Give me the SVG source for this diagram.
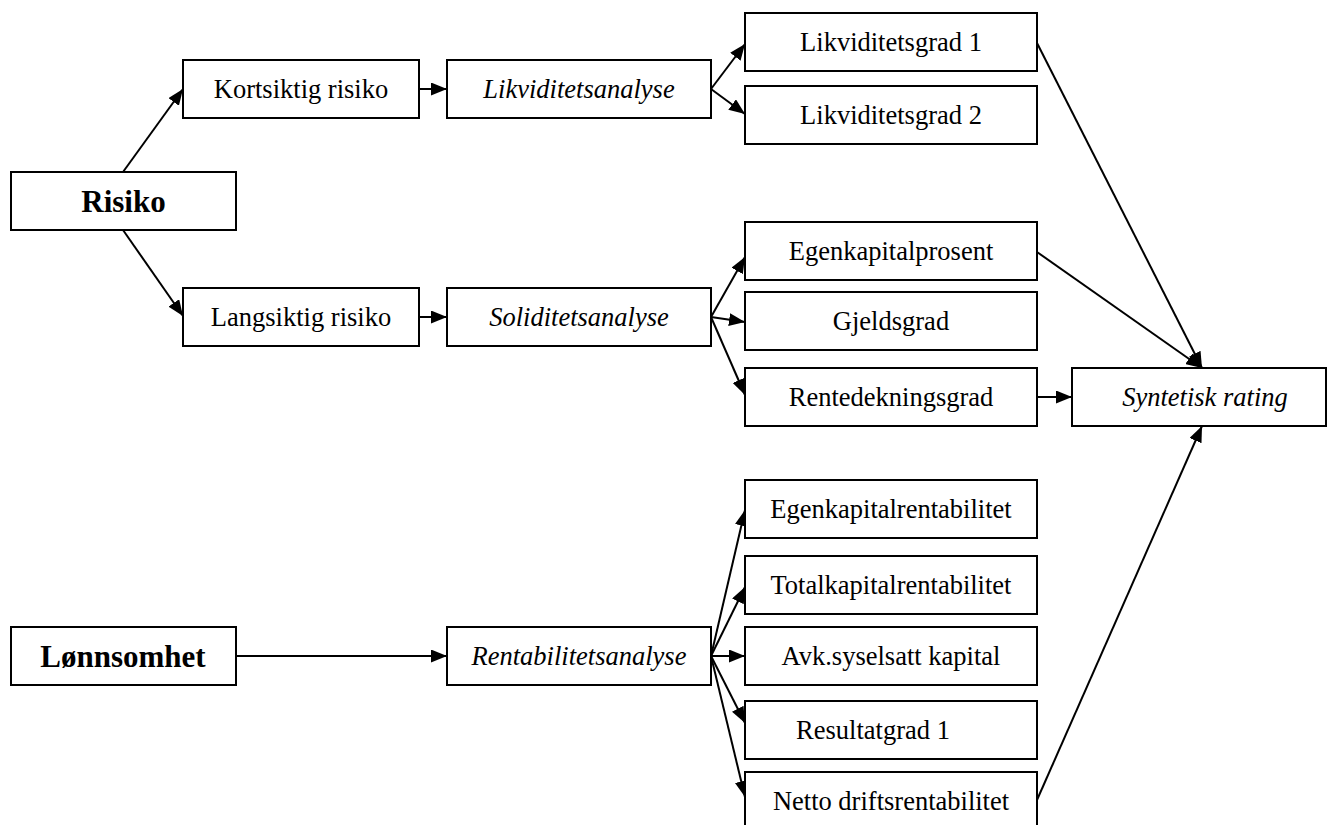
<svg xmlns="http://www.w3.org/2000/svg" width="1328" height="825" viewBox="0 0 1328 825">
  <style>
    .box { fill: #ffffff; stroke: #000000; stroke-width: 2; }
    .lbl { font-family: "Liberation Serif", "Times New Roman", serif; font-size: 26.5px; fill: #000000; text-anchor: middle; }
    .it { font-style: italic; }
    .big { font-size: 31px; font-weight: bold; }
    .edge { stroke: #000000; stroke-width: 2; fill: none; }
  </style>
  <defs>
    <marker id="arrow" markerUnits="userSpaceOnUse" markerWidth="16" markerHeight="13" refX="16" refY="6.5" orient="auto">
      <path d="M0,0 L16,6.5 L0,13 z" fill="#000000"/>
    </marker>
  </defs>
  <rect width="1328" height="825" fill="#ffffff"/>

  <!-- connectors -->
  <g id="connectors">
    <line class="edge" x1="123" y1="172" x2="183" y2="89" marker-end="url(#arrow)"/>
    <line class="edge" x1="123" y1="230" x2="183" y2="316" marker-end="url(#arrow)"/>
    <line class="edge" x1="419" y1="89" x2="447" y2="89" marker-end="url(#arrow)"/>
    <line class="edge" x1="419" y1="317" x2="447" y2="317" marker-end="url(#arrow)"/>
    <line class="edge" x1="711" y1="89" x2="745" y2="44" marker-end="url(#arrow)"/>
    <line class="edge" x1="711" y1="89" x2="745" y2="114" marker-end="url(#arrow)"/>
    <line class="edge" x1="711" y1="317" x2="745" y2="257" marker-end="url(#arrow)"/>
    <line class="edge" x1="711" y1="317" x2="745" y2="322" marker-end="url(#arrow)"/>
    <line class="edge" x1="711" y1="317" x2="745" y2="395" marker-end="url(#arrow)"/>
    <line class="edge" x1="1037" y1="43" x2="1202" y2="368" marker-end="url(#arrow)"/>
    <line class="edge" x1="1037" y1="252" x2="1202" y2="368" marker-end="url(#arrow)"/>
    <line class="edge" x1="1037" y1="397" x2="1072" y2="397" marker-end="url(#arrow)"/>
    <line class="edge" x1="236" y1="656" x2="447" y2="656" marker-end="url(#arrow)"/>
    <line class="edge" x1="711" y1="656" x2="745" y2="510" marker-end="url(#arrow)"/>
    <line class="edge" x1="711" y1="656" x2="745" y2="587" marker-end="url(#arrow)"/>
    <line class="edge" x1="711" y1="656" x2="745" y2="656" marker-end="url(#arrow)"/>
    <line class="edge" x1="711" y1="656" x2="745" y2="723" marker-end="url(#arrow)"/>
    <line class="edge" x1="711" y1="656" x2="745" y2="797" marker-end="url(#arrow)"/>
    <line class="edge" x1="1037" y1="800" x2="1202" y2="426" marker-end="url(#arrow)"/>
  </g>

  <!-- risk branch -->
  <g id="risiko">
    <rect class="box" x="11" y="172" width="225" height="58"/>
    <text class="lbl big" x="123.5" y="212">Risiko</text>
  </g>
  <g id="kortsiktig">
    <rect class="box" x="183" y="60" width="236" height="58"/>
    <text class="lbl" x="301" y="98">Kortsiktig risiko</text>
  </g>
  <g id="langsiktig">
    <rect class="box" x="183" y="288" width="236" height="58"/>
    <text class="lbl" x="301" y="326">Langsiktig risiko</text>
  </g>
  <g id="likviditetsanalyse">
    <rect class="box" x="447" y="60" width="264" height="58"/>
    <text class="lbl it" x="579" y="98">Likviditetsanalyse</text>
  </g>
  <g id="soliditetsanalyse">
    <rect class="box" x="447" y="288" width="264" height="58"/>
    <text class="lbl it" x="579" y="326">Soliditetsanalyse</text>
  </g>
  <g id="likviditetsgrad1">
    <rect class="box" x="745" y="13" width="292" height="58"/>
    <text class="lbl" x="891" y="51">Likviditetsgrad 1</text>
  </g>
  <g id="likviditetsgrad2">
    <rect class="box" x="745" y="86" width="292" height="58"/>
    <text class="lbl" x="891" y="124">Likviditetsgrad 2</text>
  </g>
  <g id="egenkapitalprosent">
    <rect class="box" x="745" y="222" width="292" height="58"/>
    <text class="lbl" x="891" y="260">Egenkapitalprosent</text>
  </g>
  <g id="gjeldsgrad">
    <rect class="box" x="745" y="292" width="292" height="58"/>
    <text class="lbl" x="891" y="330">Gjeldsgrad</text>
  </g>
  <g id="rentedekningsgrad">
    <rect class="box" x="745" y="368" width="292" height="58"/>
    <text class="lbl" x="891" y="406">Rentedekningsgrad</text>
  </g>
  <g id="syntetisk-rating">
    <rect class="box" x="1072" y="368" width="254" height="58"/>
    <text class="lbl it" x="1205" y="406">Syntetisk rating</text>
  </g>

  <!-- profitability branch -->
  <g id="lonnsomhet">
    <rect class="box" x="11" y="627" width="225" height="58"/>
    <text class="lbl big" x="123" y="667">Lønnsomhet</text>
  </g>
  <g id="rentabilitetsanalyse">
    <rect class="box" x="447" y="627" width="264" height="58"/>
    <text class="lbl it" x="579" y="665">Rentabilitetsanalyse</text>
  </g>
  <g id="egenkapitalrentabilitet">
    <rect class="box" x="745" y="480" width="292" height="58"/>
    <text class="lbl" x="891" y="518">Egenkapitalrentabilitet</text>
  </g>
  <g id="totalkapitalrentabilitet">
    <rect class="box" x="745" y="556" width="292" height="58"/>
    <text class="lbl" x="891" y="594">Totalkapitalrentabilitet</text>
  </g>
  <g id="avk-syselsatt-kapital">
    <rect class="box" x="745" y="627" width="292" height="58"/>
    <text class="lbl" x="891" y="665">Avk.syselsatt kapital</text>
  </g>
  <g id="resultatgrad1">
    <rect class="box" x="745" y="701" width="292" height="58"/>
    <text class="lbl" x="873" y="739">Resultatgrad 1</text>
  </g>
  <g id="netto-driftsrentabilitet">
    <rect class="box" x="745" y="772" width="292" height="70"/>
    <text class="lbl" x="891" y="810">Netto driftsrentabilitet</text>
  </g>
</svg>
